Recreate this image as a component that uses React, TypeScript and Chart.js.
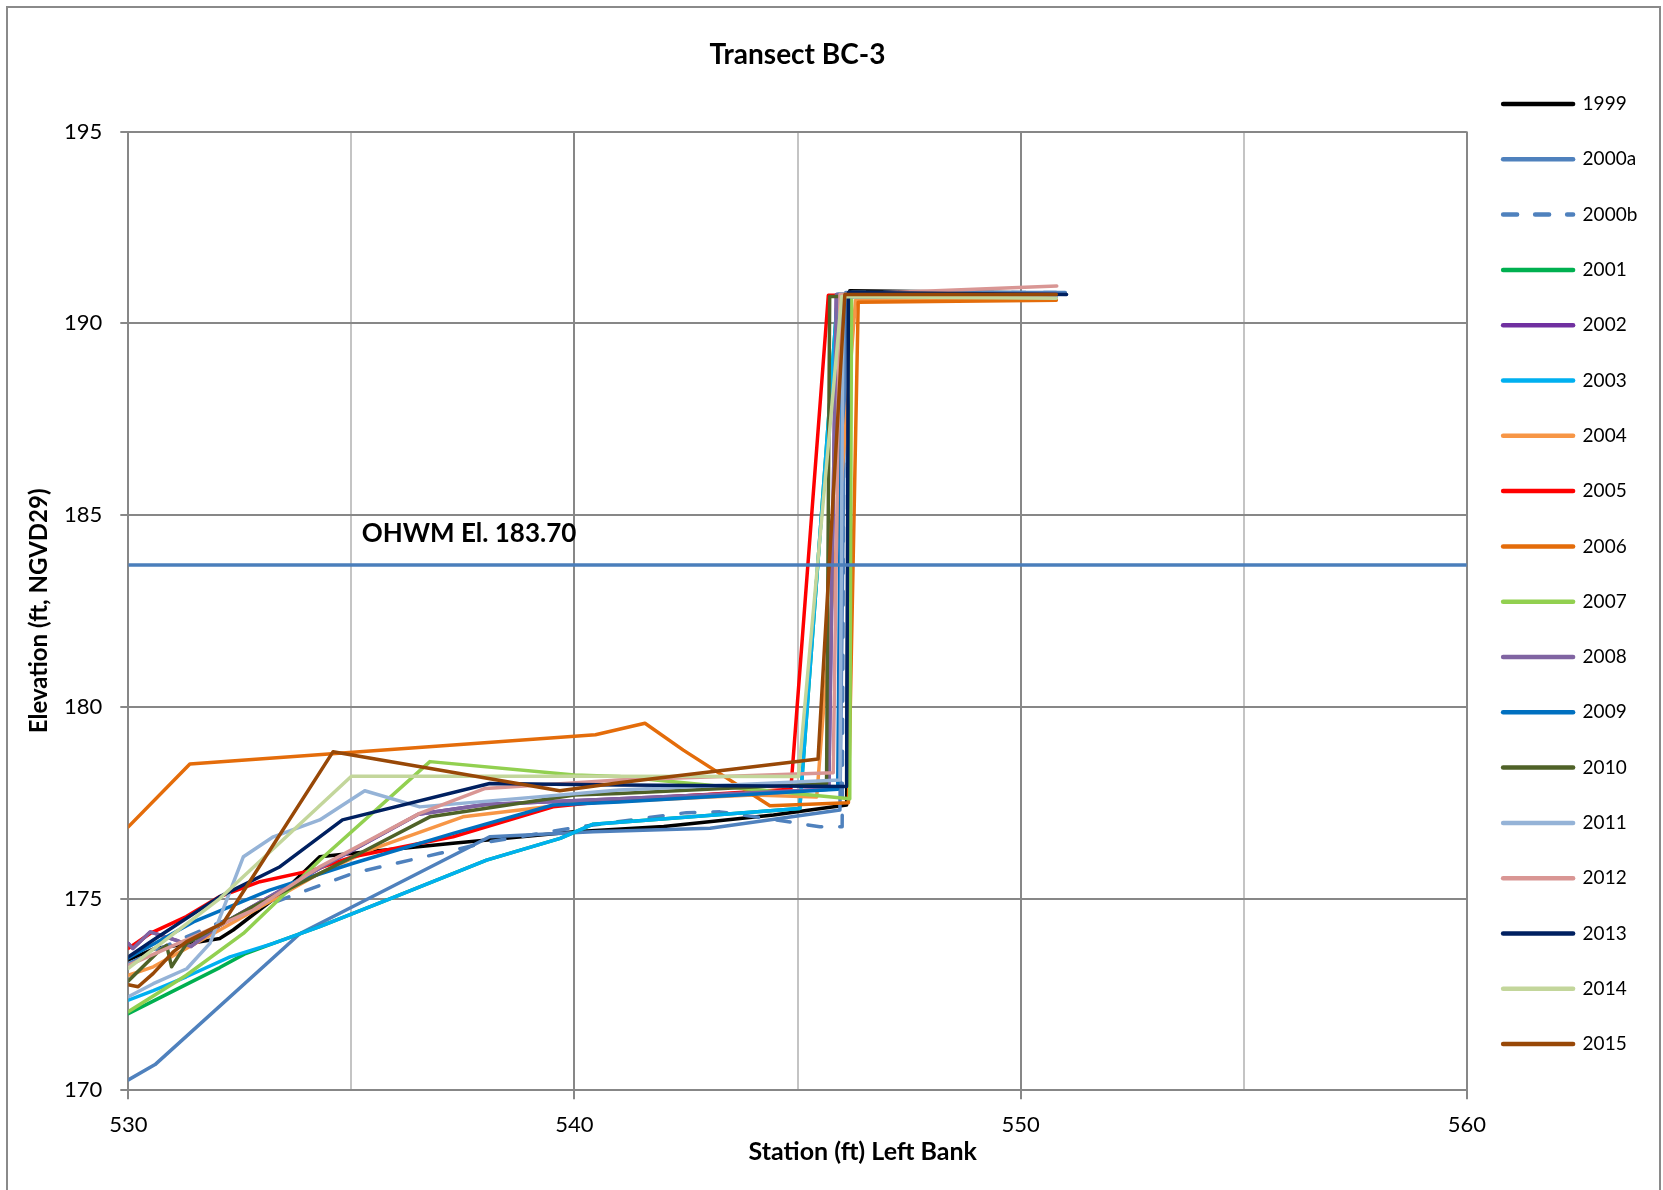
import { useEffect, useRef } from 'react';
import { Chart, registerables } from 'chart.js';

Chart.register(...registerables);

type Pt = [number, number];

// ---------- text ----------
const CHART_TITLE = 'Transect BC-3';
const X_TITLE = 'Station (ft) Left Bank';
const Y_TITLE = 'Elevation (ft, NGVD29)';
const OHWM_TEXT = 'OHWM El. 183.70';

// ---------- axes ----------
const X_MIN = 530;
const X_MAX = 560;
const X_STEP = 5;
const X_LABEL_EVERY = 10;
const Y_MIN = 170;
const Y_MAX = 195;
const Y_STEP = 5;

// ---------- OHWM reference line ----------
const OHWM_STATIONS = [530, 560];
const OHWM_ELEV = 183.7;
const OHWM_LABEL_AT: Pt = [535.23, 184.52];

// ---------- survey series (station ft, elevation ft) ----------
const s1999: Pt[] = [[530, 173.4], [530.6, 173.7], [531.5, 173.85], [532.05, 173.96], [532.35, 174.18], [533.5, 175.2], [534.29, 176.09], [535.04, 176.18], [537.28, 176.44], [540, 176.74], [542, 176.88], [544.46, 177.18], [546.1, 177.44], [546.17, 190.85], [551.0, 190.78]];
const s2000a: Pt[] = [[530, 170.27], [530.6, 170.67], [533.85, 174.09], [538.1, 176.61], [540.42, 176.74], [543.04, 176.83], [545.95, 177.31], [546.08, 190.8], [551.0, 190.8]];
const s2000b: Pt[] = [[530, 173.3], [531, 173.85], [532, 174.35], [533.5, 175.0], [535.04, 175.66], [536.98, 176.18], [538.1, 176.48], [540, 176.85], [542.51, 177.24], [543.26, 177.26], [544.53, 177.05], [545.5, 176.87], [546.0, 176.87], [546.05, 190.8], [550.8, 190.8]];
const s2001: Pt[] = [[530, 172.0], [532.05, 173.2], [532.6, 173.55], [533.25, 173.83], [534.29, 174.27], [535.79, 174.96], [538.03, 176.0], [539.68, 176.57], [540.42, 176.94], [545.05, 177.35], [545.9, 190.75], [550.8, 190.72]];
const s2002: Pt[] = [[530, 173.83], [530.1, 173.7], [530.49, 174.13], [531.08, 173.91], [531.4, 173.75], [532.05, 174.3], [534.3, 175.8], [536.5, 177.2], [538, 177.45], [541, 177.6], [545.7, 177.85], [545.87, 190.75], [550.8, 190.75]];
const s2003: Pt[] = [[530, 172.35], [530.56, 172.6], [531.3, 172.96], [532.28, 173.48], [533.25, 173.83], [534.29, 174.27], [535.79, 174.96], [538.03, 176.0], [539.68, 176.57], [540.42, 176.94], [545.05, 177.35], [545.9, 190.75], [550.8, 190.72]];
const s2004: Pt[] = [[530, 173.0], [530.56, 173.22], [532.05, 174.18], [534.29, 175.66], [535.5, 176.3], [537.5, 177.13], [540, 177.48], [544.0, 177.7], [545.43, 177.65], [546.3, 190.6], [550.8, 190.62]];
const s2005: Pt[] = [[530, 173.7], [530.49, 174.09], [531.3, 174.53], [532.05, 175.05], [532.95, 175.44], [534.14, 175.74], [535.04, 176.09], [537.28, 176.61], [539.52, 177.39], [541, 177.57], [544.85, 177.85], [545.69, 190.73], [545.9, 190.73], [550.8, 190.72]];
const s2006: Pt[] = [[530, 176.87], [531.38, 178.51], [540.47, 179.27], [541.58, 179.57], [542.44, 178.87], [544.38, 177.42], [546.14, 177.5], [546.36, 190.55], [550.8, 190.6]];
const s2007: Pt[] = [[530, 172.05], [531.3, 173.0], [532.58, 174.09], [534.29, 176.0], [536.76, 178.57], [540, 178.22], [541, 178.18], [546.17, 177.6], [546.21, 190.7], [550.8, 190.7]];
const s2008: Pt[] = [[530, 173.83], [530.1, 173.7], [530.49, 174.13], [531.08, 173.91], [531.4, 173.75], [532.05, 174.3], [534.3, 175.8], [536.5, 177.2], [538, 177.45], [541, 177.6], [545.7, 177.85], [545.87, 190.75], [550.8, 190.75]];
const s2009: Pt[] = [[530, 173.45], [531.46, 174.39], [533.17, 175.22], [535.04, 175.92], [537.28, 176.7], [539.52, 177.44], [541, 177.52], [545.9, 177.85], [546.0, 190.7], [550.8, 190.7]];
const s2010: Pt[] = [[530, 172.85], [530.63, 173.57], [530.86, 173.78], [530.97, 173.22], [531.31, 173.83], [532.8, 174.79], [535.04, 176.09], [536.76, 177.13], [540, 177.7], [541, 177.74], [545.65, 178.0], [545.72, 190.7], [550.8, 190.7]];
const s2011: Pt[] = [[530, 172.44], [530.56, 172.78], [531.31, 173.17], [531.83, 173.83], [532.58, 176.09], [533.25, 176.61], [534.29, 177.05], [535.3, 177.81], [536.53, 177.39], [541, 177.83], [545.95, 178.09], [546.02, 190.7], [550.8, 190.7]];
const s2012: Pt[] = [[530, 173.26], [531.3, 173.92], [532.8, 174.7], [534.29, 175.83], [536.53, 177.22], [538, 177.87], [541, 178.09], [545.8, 178.28], [545.95, 190.75], [550.81, 190.97]];
const s2013: Pt[] = [[530, 173.48], [530.56, 173.92], [532.05, 175.05], [533.4, 175.83], [534.8, 177.05], [538.1, 178.0], [541, 177.96], [546.1, 177.92], [546.14, 190.8], [551.03, 190.75]];
const s2014: Pt[] = [[530, 173.18], [532.05, 175.0], [535, 178.19], [540, 178.19], [545.02, 178.18], [545.99, 190.7], [550.8, 190.65]];
const s2015: Pt[] = [[530, 172.75], [530.22, 172.7], [530.56, 173.05], [531.0, 173.6], [531.3, 173.87], [532.13, 174.37], [534.59, 178.83], [539.67, 177.81], [541, 178.02], [545.46, 178.64], [546.06, 190.75], [550.8, 190.75]];

const SERIES_LABELS = ['1999', '2000a', '2000b', '2001', '2002', '2003', '2004', '2005', '2006', '2007', '2008', '2009', '2010', '2011', '2012', '2013', '2014', '2015'];
const SERIES_POINTS = [s1999, s2000a, s2000b, s2001, s2002, s2003, s2004, s2005, s2006, s2007, s2008, s2009, s2010, s2011, s2012, s2013, s2014, s2015];
const SERIES_COLORS = ['#000000', '#4F81BD', '#4F81BD', '#00B050', '#7030A0', '#00B0F0', '#F79646', '#FF0000', '#E46C0A', '#92D050', '#8064A2', '#0070C0', '#4F6228', '#95B3D7', '#D99694', '#002060', '#C3D69B', '#984807'];
const DASHED_SERIES = ['2000b'];

const FONT = 'Lato';
const W = 1663;
const H = 1190;
const LEGEND_W = W - 1466.8;

export default function App() {
  const ref = useRef<HTMLCanvasElement | null>(null);

  useEffect(() => {
    const canvas = ref.current;
    if (!canvas) return;
    const n = SERIES_LABELS.length;

    const datasets: any[] = SERIES_LABELS.map((label, i) => ({
      label,
      data: SERIES_POINTS[i].map(([x, y]) => ({ x, y })),
      borderColor: SERIES_COLORS[i],
      backgroundColor: SERIES_COLORS[i],
      borderWidth: 3.5,
      borderDash: DASHED_SERIES.includes(label) ? [14, 18] : [],
      borderCapStyle: 'round',
      borderJoinStyle: 'round',
      pointRadius: 0,
      pointHoverRadius: 0,
      tension: 0,
      fill: false,
      order: n - i + 1,
    }));
    datasets.push({
      label: 'OHWM',
      data: OHWM_STATIONS.map((x) => ({ x, y: OHWM_ELEV })),
      borderColor: '#4A7EBB',
      backgroundColor: '#4A7EBB',
      borderWidth: 3.5,
      pointRadius: 0,
      pointHoverRadius: 0,
      fill: false,
      order: 0,
    });

    const legendSizer = {
      id: 'legendSizer',
      afterInit(chart: any) {
        const lg = chart.legend;
        if (!lg) return;
        const fit = lg.fit;
        lg.fit = function (this: any) {
          fit.call(this);
          this.width = LEGEND_W;
        };
      },
    };

    const decor = {
      id: 'decor',
      beforeDraw(chart: any) {
        const ctx = chart.ctx;
        ctx.save();
        ctx.fillStyle = '#ffffff';
        ctx.fillRect(0, 0, chart.width, chart.height);
        ctx.strokeStyle = '#8a8a8a';
        ctx.lineWidth = 2;
        ctx.strokeRect(7, 7, chart.width - 10, chart.height + 20);
        ctx.restore();
      },
      afterDatasetsDraw(chart: any) {
        const ctx = chart.ctx;
        const xs = chart.scales.x;
        const ys = chart.scales.y;
        ctx.save();
        ctx.fillStyle = '#000';
        ctx.font = `bold 26px ${FONT}`;
        ctx.textAlign = 'left';
        ctx.textBaseline = 'middle';
        ctx.fillText(OHWM_TEXT, xs.getPixelForValue(OHWM_LABEL_AT[0]), ys.getPixelForValue(OHWM_LABEL_AT[1]));
        ctx.restore();
      },
      afterDraw(chart: any) {
        const ctx = chart.ctx;
        ctx.save();
        ctx.fillStyle = '#000';
        ctx.font = `bold 25px ${FONT}`;
        ctx.textAlign = 'center';
        ctx.textBaseline = 'middle';
        ctx.fillText(X_TITLE, 862.8, 1152);
        ctx.restore();
      },
    };

    const chart = new Chart(canvas, {
      type: 'line',
      data: { datasets },
      options: {
        responsive: false,
        animation: false,
        devicePixelRatio: 1,
        layout: { padding: 0 },
        plugins: {
          tooltip: { enabled: false },
          title: {
            display: true,
            text: CHART_TITLE,
            fullSize: false,
            color: '#000',
            font: { family: FONT, size: 28, weight: 'bold' },
            padding: { top: 38.2, bottom: 59.7 },
          },
          legend: {
            display: true,
            position: 'right',
            align: 'start',
            title: { display: true, text: ' ', font: { size: 12 }, padding: { top: 43.8, bottom: 0 } },
            labels: {
              usePointStyle: true,
              pointStyleWidth: 70,
              padding: 36.3,
              color: '#000',
              font: { family: FONT, size: 19 },
              generateLabels: (c: any) =>
                c.data.datasets
                  .map((ds: any, i: number) => ({ ds, i }))
                  .filter(({ ds }: any) => SERIES_LABELS.includes(ds.label))
                  .map(({ ds, i }: any) => ({
                    text: ds.label,
                    fillStyle: ds.borderColor,
                    strokeStyle: ds.borderColor,
                    lineWidth: 4.5,
                    lineDash: ds.borderDash,
                    lineDashOffset: 0,
                    lineCap: 'round',
                    pointStyle: 'line',
                    hidden: false,
                    datasetIndex: i,
                    fontColor: '#000',
                  })),
            },
          },
        },
        scales: {
          x: {
            type: 'linear',
            min: X_MIN,
            max: X_MAX,
            afterFit: (s: any) => {
              s.height = H - 1090.3;
            },
            ticks: {
              stepSize: X_STEP,
              autoSkip: false,
              maxRotation: 0,
              padding: 12.5,
              color: '#000',
              font: { family: FONT, size: 22 },
              callback: (v: any) => (Number(v) % X_LABEL_EVERY === 0 ? String(v) : ''),
            },
            grid: {
              lineWidth: 2,
              tickLength: 9,
              color: (c: any) => (c.tick && c.tick.value % X_LABEL_EVERY === 0 ? '#878787' : '#C4C4C4'),
              tickColor: (c: any) => (c.tick && c.tick.value % X_LABEL_EVERY === 0 ? '#878787' : 'rgba(0,0,0,0)'),
            },
            border: { color: '#878787', width: 2 },
            title: { display: false },
          },
          y: {
            type: 'linear',
            min: Y_MIN,
            max: Y_MAX,
            afterFit: (s: any) => {
              s.width = 128.3;
            },
            ticks: {
              stepSize: Y_STEP,
              padding: 18,
              color: '#000',
              font: { family: FONT, size: 22 },
            },
            grid: { lineWidth: 2, tickLength: 8, color: '#878787', tickColor: '#878787' },
            border: { color: '#878787', width: 2 },
            title: {
              display: true,
              text: Y_TITLE,
              color: '#000',
              font: { family: FONT, size: 24, weight: 'bold' },
              padding: { top: 24.8, bottom: 0 },
            },
          },
        },
      },
      plugins: [legendSizer, decor],
    } as any);

    return () => chart.destroy();
  }, []);

  return (
    <div style={{ position: 'fixed', left: 0, top: 0, width: W, height: H, background: '#fff' }}>
      <canvas ref={ref} width={W} height={H} style={{ display: 'block', width: W, height: H }} />
    </div>
  );
}
